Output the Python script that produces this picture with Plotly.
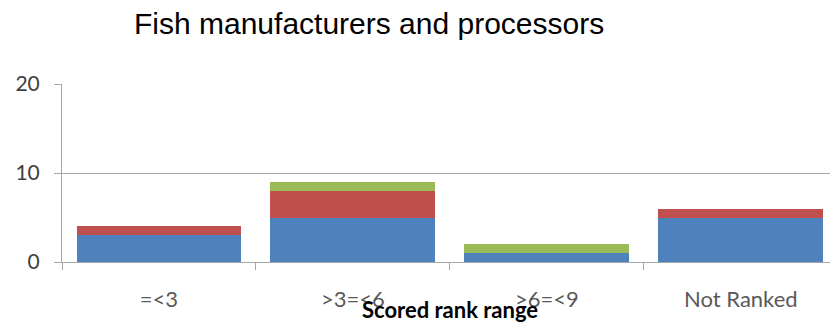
import plotly.graph_objects as go

categories = ["=<3", ">3=<6", ">6=<9", "Not Ranked"]
series_blue = [3, 5, 1, 5]
series_red = [1, 3, 0, 1]
series_green = [0, 1, 1, 0]
y_ticks = [0, 10, 20]

W, H = 830, 324
L, R, T, B = 62, 0, 84, 62

fig = go.Figure()
for vals, col in [(series_blue, "#4F81BD"), (series_red, "#C0504D"), (series_green, "#9BBB59")]:
    fig.add_trace(go.Bar(x=categories, y=vals, marker=dict(color=col, line=dict(width=0)),
                         showlegend=False))

axis_grey = "#a6a6a6"
fig.update_layout(
    width=W, height=H, barmode="stack", bargap=0.15,
    margin=dict(l=L, r=R, t=T, b=B, pad=0),
    paper_bgcolor="white", plot_bgcolor="white",
    title=dict(text="Fish manufacturers and processors", xref="container", yref="container",
               x=134 / W, xanchor="left", y=1 - 23 / H, yanchor="middle",
               font=dict(family="Liberation Sans", size=30, color="#000000")),
    xaxis=dict(type="category", range=[-0.5, 3.46], showline=True, linecolor=axis_grey,
               linewidth=1, ticks="outside", tickson="boundaries", ticklen=7,
               tickcolor=axis_grey, showgrid=False, ticklabelstandoff=18,
               tickfont=dict(family="Lato", size=22, color="#595959")),
    yaxis=dict(range=[0, 20], tickvals=y_ticks, showline=True, linecolor=axis_grey,
               linewidth=1, ticks="outside", ticklen=7, tickcolor=axis_grey,
               showgrid=True, gridcolor=axis_grey, gridwidth=1, zeroline=False,
               ticklabelstandoff=10,
               tickfont=dict(family="Lato", size=21, color="#404040")),
    annotations=[dict(text="<b>Scored rank range</b>", xref="paper", yref="paper",
                      x=(450 - L) / (W - L - R), y=(262 - 309) / (H - T - B),
                      xanchor="center", yanchor="middle", showarrow=False,
                      font=dict(family="Lato", size=22, color="#000000"))],
)

fig.write_html("out.html")
